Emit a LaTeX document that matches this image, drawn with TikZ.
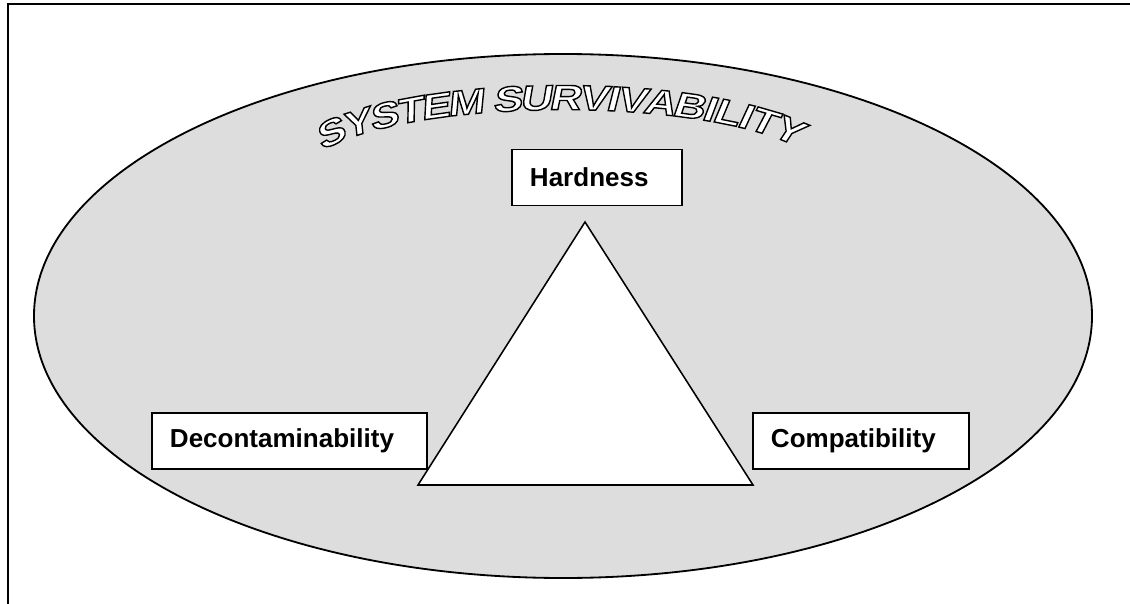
\documentclass[tikz,border=0pt]{standalone}
\usepackage{fontspec}
\setmainfont{Liberation Sans}
\newfontfamily\titlefont[FakeSlant=0.2,FakeStretch=1.25]{Liberation Sans Bold}
\usetikzlibrary{decorations.text}

\definecolor{ovalgray}{RGB}{221,221,221}
% hollow glyphs: white fill, black stroke
\newcommand\hollow{\special{pdf:literal direct 2 Tr 1 w 0 G}}

\begin{document}
\begin{tikzpicture}[x=0.025cm, y=0.025cm,
        every node/.style={font=\bfseries\fontsize{18.5}{22}\selectfont},
        facet/.style={draw, line width=1.3pt, fill=white, minimum height=1.4cm,
            inner xsep=0.45cm, align=left, text width=#1}
        ]
    \useasboundingbox (0,0) rectangle (1130,-604);
    \draw [line width=1.5pt] (8,-604) -- (8,-4) -- (1130,-4);

    \draw [line width=1.3pt, fill=ovalgray] (563,-316) ellipse [x radius=529, y radius=262];

    \coordinate (t_top) at (585,-222);
    \coordinate (t_left) at (418,-485);
    \coordinate (t_right) at (753,-485);
    \draw [line width=1.1pt, fill=white] (t_top) -- (t_left) -- (t_right) -- cycle;

    \node [facet=3.35cm] (hard) at (597,-177.5) {Hardness};
    \node [facet=5.975cm] (decon) at (289.5,-441) {Decontaminability};
    \node [facet=4.5cm] (compat) at (861,-441) {Compatibility};

    % arched title
    \coordinate (arch) at (322,-151);
    \path [decorate, decoration={text effects along path,
            text={SYSTEM SURVIVABILITY},
            text effects/.cd, text along path, fit text to path,
            characters={font=\titlefont\fontsize{25}{30}\selectfont\color{white}\hollow}}]
        (arch) arc [start angle=158, end angle=26, x radius=260, y radius=66];
\end{tikzpicture}
\end{document}
